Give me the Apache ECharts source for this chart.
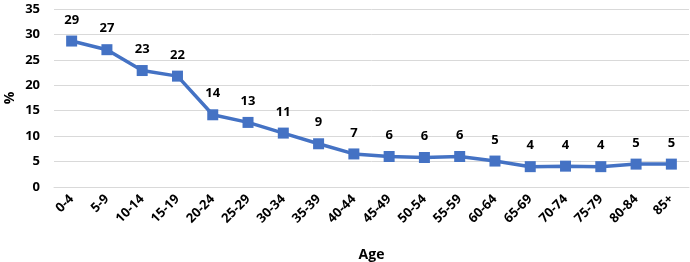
<!DOCTYPE html>
<html>
<head>
<meta charset="utf-8">
<script src="https://cdn.jsdelivr.net/npm/echarts@6/dist/echarts.min.js"></script>
<style>
  html, body { margin: 0; padding: 0; background: #fff; }
  #chart { width: 690px; height: 262px; }
</style>
</head>
<body>
<div id="chart"></div>
<script>
// age groups on the x axis
const ageGroups = ['0-4', '5-9', '10-14', '15-19', '20-24', '25-29', '30-34', '35-39', '40-44',
  '45-49', '50-54', '55-59', '60-64', '65-69', '70-74', '75-79', '80-84', '85+'];
// percent per age group
const percentValues = [28.7, 27.0, 22.9, 21.8, 14.2, 12.7, 10.6, 8.5, 6.5,
  6.0, 5.8, 6.0, 5.1, 4.0, 4.1, 4.0, 4.5, 4.5];

const font = "'Open Sans', 'Liberation Sans', sans-serif";
const myChart = echarts.init(document.getElementById('chart'));

myChart.setOption({
  animation: false,
  backgroundColor: '#fff',
  grid: { left: 54, right: 1, top: 9, bottom: 75, outerBoundsMode: 'none' },
  xAxis: {
    type: 'category',
    data: ageGroups,
    name: 'Age',
    nameLocation: 'middle',
    nameGap: 61,
    nameMoveOverlap: false,
    nameTextStyle: { fontFamily: font, fontWeight: 'bold', fontSize: 14, color: '#000' },
    axisLine: { lineStyle: { color: '#d9d9d9' } },
    axisTick: { show: false },
    axisLabel: {
      rotate: 45, interval: 0, margin: 10,
      fontFamily: font, fontWeight: 'bold', fontSize: 13, color: '#000'
    }
  },
  yAxis: {
    type: 'value',
    min: 0, max: 35, interval: 5,
    name: '%',
    nameLocation: 'middle',
    nameGap: 37,
    nameMoveOverlap: false,
    nameRotate: 90,
    nameTextStyle: { fontFamily: font, fontWeight: 'bold', fontSize: 14, color: '#000' },
    axisLine: { show: false },
    axisTick: { show: false },
    axisLabel: { margin: 14, fontFamily: font, fontWeight: 'bold', fontSize: 13, color: '#000' },
    splitLine: { lineStyle: { color: '#d9d9d9', width: 1 } }
  },
  series: [{
    type: 'line',
    data: percentValues,
    symbol: 'rect',
    symbolSize: 11,
    lineStyle: { color: '#4472c4', width: 3.5 },
    itemStyle: { color: '#4472c4' },
    label: {
      show: true,
      position: 'top',
      distance: 9,
      fontFamily: font, fontWeight: 'bold', fontSize: 13, color: '#000',
      formatter: p => Math.round(p.value)
    }
  }]
});
</script>
</body>
</html>
